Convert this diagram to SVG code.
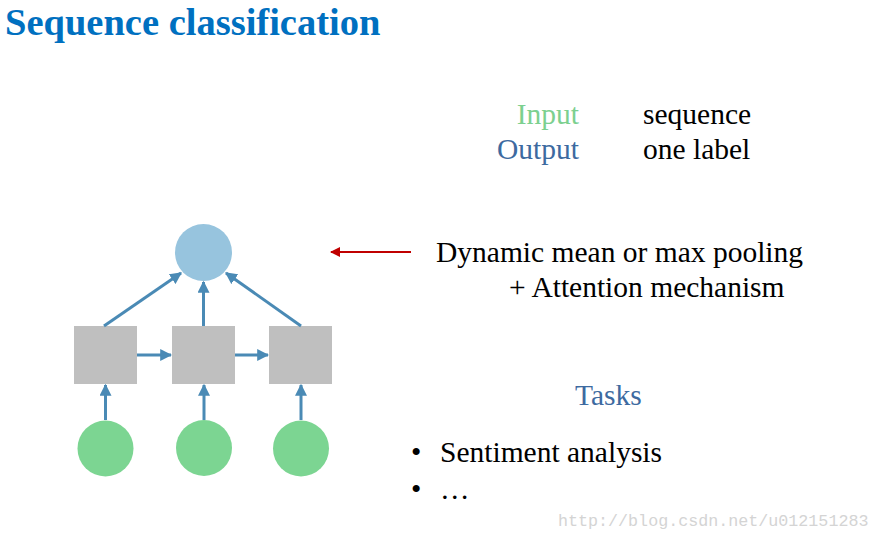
<svg xmlns="http://www.w3.org/2000/svg" width="880" height="540" viewBox="0 0 880 540">
<defs>
<style>
.serif{font-family:"Liberation Serif","Times New Roman",serif;}
.box{fill:#bfbfbf;}
.in{fill:#7cd592;}
.out{fill:#97c4de;}
.con{stroke:#4a8ab5;stroke-width:3;fill:none;marker-end:url(#ah);}
</style>
<marker id="ah" viewBox="0 0 10 10" refX="9" refY="5" markerWidth="4" markerHeight="4" orient="auto" markerUnits="strokeWidth">
<path d="M0,0 L10,5 L0,10 z" fill="#4a8ab5"/>
</marker>
<marker id="ahr" viewBox="0 0 10 10" refX="9" refY="5" markerWidth="6" markerHeight="5" orient="auto" markerUnits="strokeWidth">
<path d="M0,0 L10,5 L0,10 z" fill="#c00000"/>
</marker>
</defs>
<rect width="880" height="540" fill="#ffffff"/>
<text x="5" y="35" class="serif" font-size="38.5" font-weight="bold" fill="#0070c0">Sequence classification</text>

<g id="output"><circle cx="203.5" cy="252.5" r="28.5" class="out"/></g>
<g id="h1"><rect x="74" y="326" width="63" height="58" class="box"/></g>
<g id="h2"><rect x="172" y="326" width="63" height="58" class="box"/></g>
<g id="h3"><rect x="269" y="326" width="63" height="58" class="box"/></g>
<g id="x1"><circle cx="105.5" cy="448.5" r="28" class="in"/></g>
<g id="x2"><circle cx="204" cy="448" r="28" class="in"/></g>
<g id="x3"><circle cx="301" cy="448.5" r="28" class="in"/></g>

<g id="connectors">
<path class="con" d="M104,326 L181,273"/>
<path class="con" d="M203.5,326 L203.5,282"/>
<path class="con" d="M301,326 L226,273"/>
<path class="con" d="M137,355 L171,355"/>
<path class="con" d="M235,355 L268,355"/>
<path class="con" d="M105.5,420 L105.5,385"/>
<path class="con" d="M204,420 L204,385"/>
<path class="con" d="M301,420 L301,385"/>
<path d="M411,252 L331,252" stroke="#c00000" stroke-width="2" fill="none" marker-end="url(#ahr)"/>
</g>

<g class="serif" font-size="29.5">
<text x="579" y="124" text-anchor="end" fill="#7cd08f">Input</text>
<text x="579" y="159" text-anchor="end" fill="#3d6aa0">Output</text>
<text x="643" y="124" fill="#000">sequence</text>
<text x="643" y="159" fill="#000">one label</text>
<text x="436" y="262" fill="#000">Dynamic mean or max pooling</text>
<text x="509" y="297" fill="#000">+ Attention mechanism</text>
<text x="575" y="405" fill="#3d6aa0">Tasks</text>
<text x="411" y="462" fill="#000">•</text>
<text x="440" y="462" fill="#000">Sentiment analysis</text>
<text x="411" y="499" fill="#000">•</text>
<text x="440" y="499" fill="#000">…</text>
</g>
<text x="558" y="526" font-family="Liberation Mono, monospace" font-size="16.7" fill="#d4d4d4">http://blog.csdn.net/u012151283</text>
</svg>
